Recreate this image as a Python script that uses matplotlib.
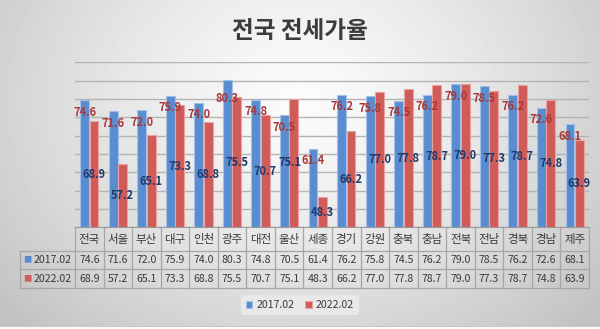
import numpy as np
import matplotlib
matplotlib.use("Agg")
import matplotlib.pyplot as plt
from matplotlib.patches import Rectangle

plt.rcParams['font.family'] = ['Noto Sans CJK KR', 'DejaVu Sans']

regions = ['전국', '서울', '부산', '대구', '인천', '광주', '대전', '울산', '세종',
           '경기', '강원', '충북', '충남', '전북', '전남', '경북', '경남', '제주']
rate_2017 = [74.6, 71.6, 72.0, 75.9, 74.0, 80.3, 74.8, 70.5, 61.4,
             76.2, 75.8, 74.5, 76.2, 79.0, 78.5, 76.2, 72.6, 68.1]
rate_2022 = [68.9, 57.2, 65.1, 73.3, 68.8, 75.5, 70.7, 75.1, 48.3,
             66.2, 77.0, 77.8, 78.7, 79.0, 77.3, 78.7, 74.8, 63.9]
series_names = ['2017.02', '2022.02']

n = len(regions)

blue, blue_edge = '#5a8dd0', '#a3c1e8'
red, red_edge = '#d05c5a', '#eaa3a2'
blue_txt, red_txt = '#1f3a6b', '#a8383a'
grid_c = '#b4b4b4'
ymin, ymax = 40, 85

fig = plt.figure(figsize=(6, 3.29), dpi=100)

# soft grey radial background
bg = fig.add_axes([0, 0, 1, 1], zorder=-5)
yy, xx = np.mgrid[0:1:329j, 0:1:600j]
d = np.sqrt(((xx - 0.5) / 0.6) ** 2 + ((yy - 0.3) / 0.9) ** 2)
shade = np.clip(0.985 - 0.2 * d ** 1.3, 0, 1)
bg.imshow(shade, cmap='gray', vmin=0, vmax=1, aspect='auto',
          extent=[0, 1, 0, 1], interpolation='bilinear')
bg.axis('off')

ax = fig.add_axes([75 / 600, 1 - 227.3 / 329, 514 / 600, 165 / 329])
ax.set_facecolor('none')
x = np.arange(n)
w = 0.31
b1 = ax.bar(x - 0.165, rate_2017, w, color=blue, edgecolor=blue_edge,
            linewidth=0.8, label=series_names[0], zorder=3)
b2 = ax.bar(x + 0.165, rate_2022, w, color=red, edgecolor=red_edge,
            linewidth=0.8, label=series_names[1], zorder=3)

ax.set_xlim(-0.5, n - 0.5)
ax.set_ylim(ymin, ymax)
ax.set_yticks(np.arange(ymin, ymax + 1, 5))
ax.yaxis.grid(True, color=grid_c, linewidth=1)
ax.set_axisbelow(True)
ax.tick_params(left=False, bottom=False, labelleft=False, labelbottom=False)
for s in ['left', 'right', 'top']:
    ax.spines[s].set_visible(False)
ax.spines['bottom'].set_color('#9a9a9a')

# small manual nudges for crowded labels (points)
nudge_2017 = {5: (0, -4.6)}
nudge_2022 = {7: (-3, 0)}

for i, (v1, v2) in enumerate(zip(rate_2017, rate_2022)):
    dx, dy = nudge_2017.get(i, (0, 0))
    ax.annotate(f'{v1:.1f}', xy=(x[i] - 0.165, v1), xytext=(dx, -8.7 + dy),
                textcoords='offset points', ha='center', va='center',
                fontsize=8, fontweight='bold', color=red_txt, zorder=5)
    dx, dy = nudge_2022.get(i, (0, 0))
    ax.annotate(f'{v2:.1f}', xy=(x[i] + 0.165, (ymin + v2) / 2), xytext=(dx, dy),
                textcoords='offset points', ha='center', va='center',
                fontsize=8, fontweight='bold', color=blue_txt, zorder=5)

# data table under the plot
tr = ax.get_xaxis_transform()
ph = 165.0
y_head = -23.7 / ph
y_r1 = -42.0 / ph
y_r2 = -60.4 / ph
x_lab = -0.5 - 55 / (514 / n)
line_kw = dict(color='#a6a6a6', linewidth=0.9, transform=tr, clip_on=False)

for yl in [y_head, y_r1, y_r2]:
    ax.plot([x_lab, n - 0.5], [yl, yl], **line_kw)
for k in range(n + 1):
    ax.plot([k - 0.5, k - 0.5], [0, y_r2], **line_kw)
ax.plot([x_lab, x_lab], [y_head, y_r2], **line_kw)

tab_txt = '#3a3a3a'
for i in range(n):
    ax.text(x[i], y_head / 2, regions[i], transform=tr, ha='center', va='center',
            fontsize=8.3, color=tab_txt)
    ax.text(x[i], (y_head + y_r1) / 2, f'{rate_2017[i]:.1f}', transform=tr,
            ha='center', va='center', fontsize=7.6, color=tab_txt)
    ax.text(x[i], (y_r1 + y_r2) / 2, f'{rate_2022[i]:.1f}', transform=tr,
            ha='center', va='center', fontsize=7.6, color=tab_txt)

sq_x = x_lab + 7.5 / (514 / n)
tx_x = x_lab + 13.5 / (514 / n)
for yc, name, c in [((y_head + y_r1) / 2, series_names[0], blue),
                    ((y_r1 + y_r2) / 2, series_names[1], red)]:
    ax.text(sq_x, yc, '■', transform=tr, ha='center', va='center',
            fontsize=6, color=c)
    ax.text(tx_x, yc, name, transform=tr, ha='left', va='center',
            fontsize=7.6, color=tab_txt)

leg = fig.legend(handles=[b1, b2], loc='center', bbox_to_anchor=(0.5, 1 - 305 / 329),
                 ncol=2, fontsize=7.6, frameon=True, handlelength=0.6,
                 handleheight=0.6, handletextpad=0.4, columnspacing=1.0,
                 borderpad=0.5)
leg.get_frame().set_facecolor('#ececec')
leg.get_frame().set_edgecolor('none')
leg.get_frame().set_alpha(0.8)
for t in leg.get_texts():
    t.set_color(tab_txt)

fig.text(0.5, 1 - 31 / 329, '전국 전세가율', ha='center', va='center',
         fontsize=17, fontweight='bold', color='#3c3c3c')

# white page strip at the very bottom
fig.patches.append(Rectangle((0, 0), 1, 3.5 / 329, transform=fig.transFigure,
                             facecolor='white', edgecolor='none', zorder=10))
fig.add_artist(plt.Line2D([0, 1], [3.5 / 329, 3.5 / 329], color='#c8c8c8',
                          linewidth=0.8, transform=fig.transFigure, zorder=11))

fig.savefig('out.png', dpi=100)
